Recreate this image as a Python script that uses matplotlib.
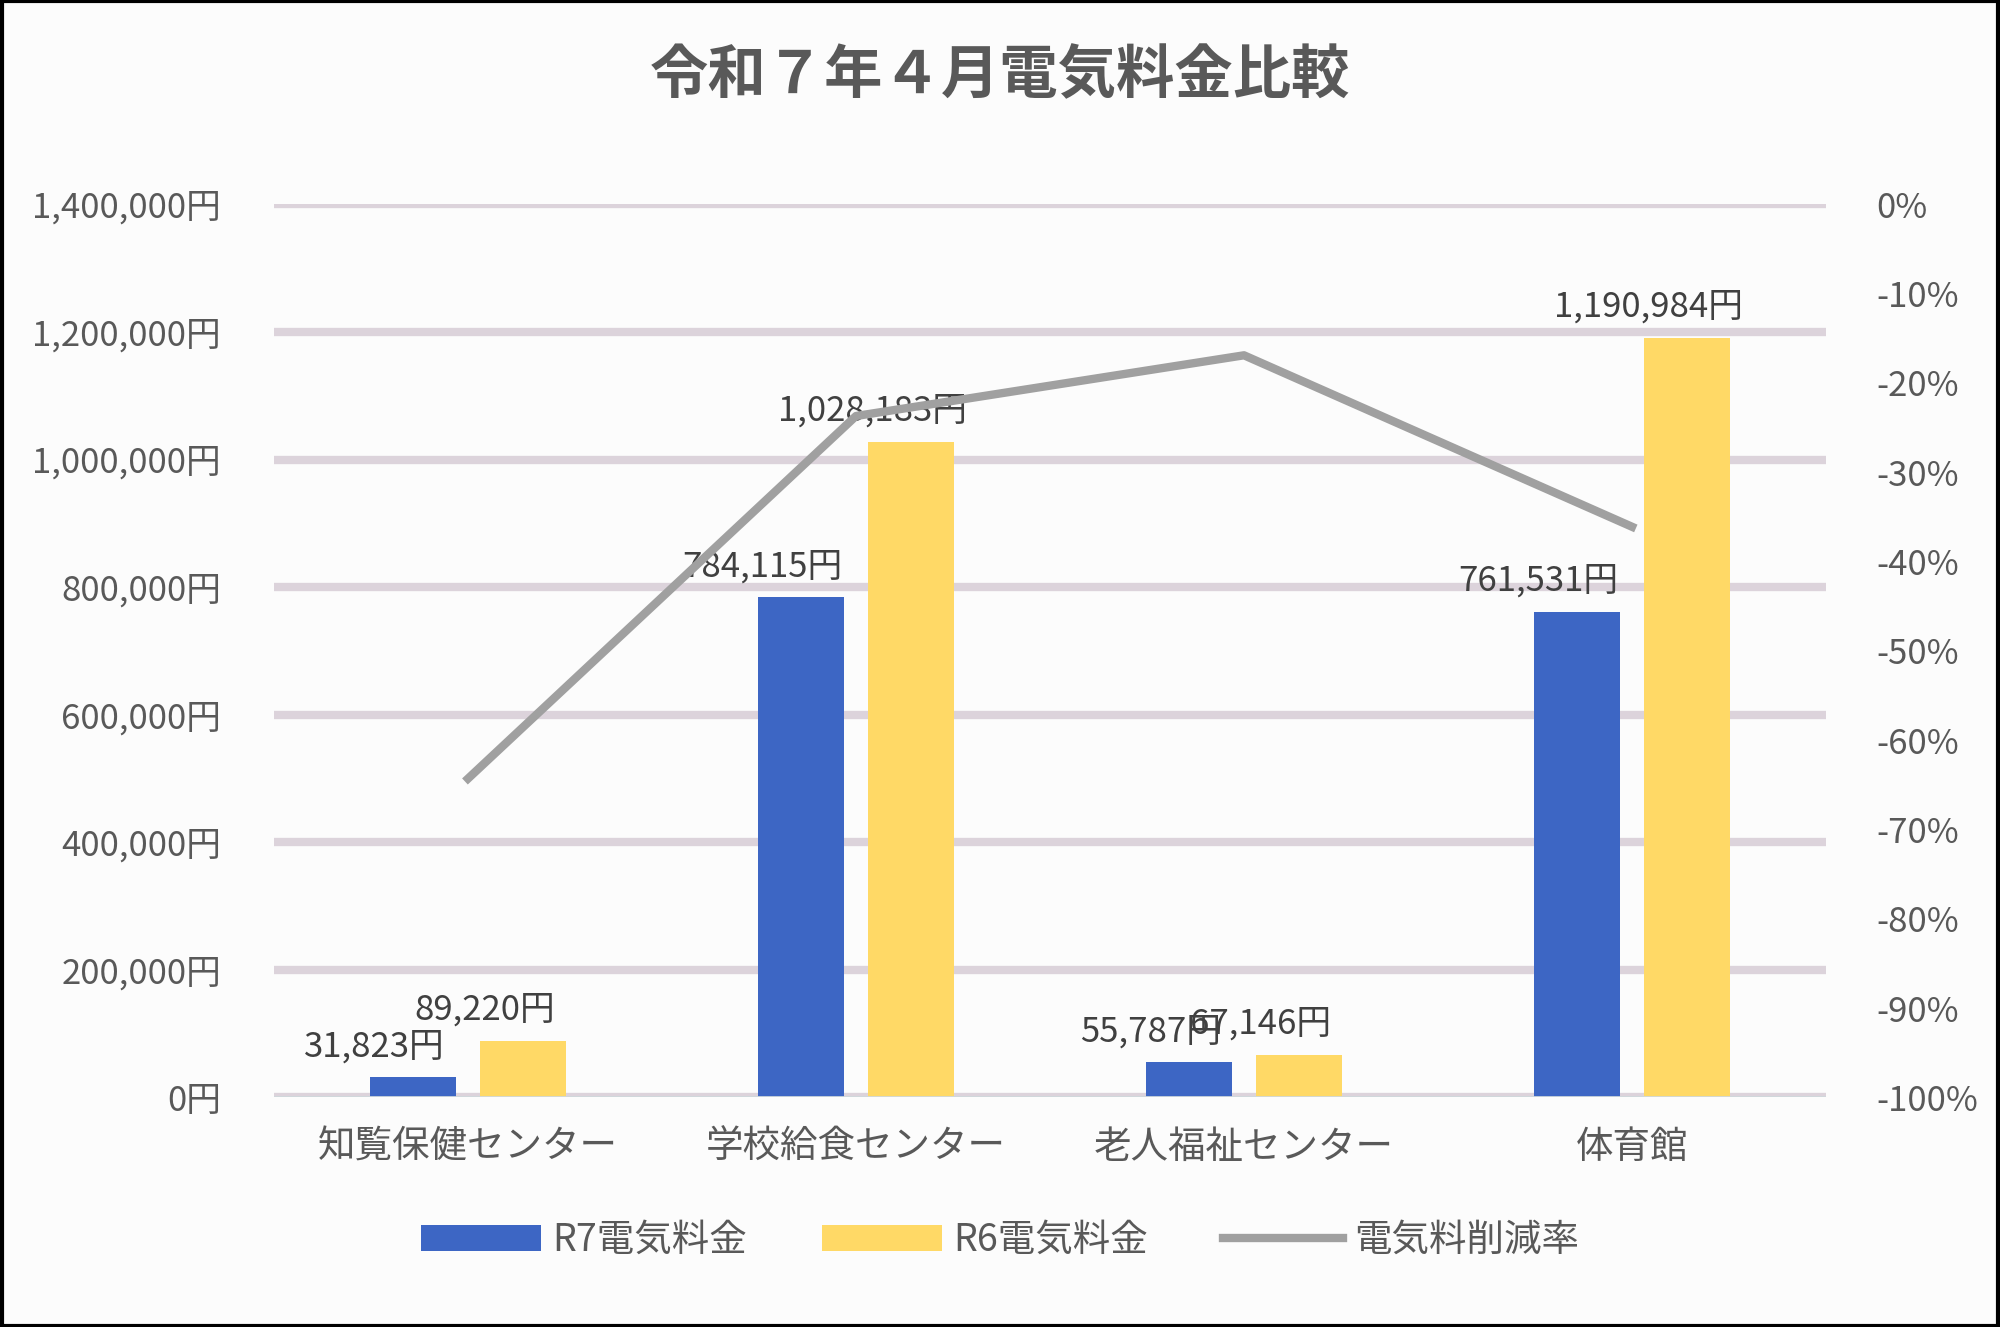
import matplotlib.pyplot as plt
import numpy as np
from matplotlib.ticker import FuncFormatter

plt.rcParams['font.family'] = 'Noto Sans CJK JP'

categories = ['知覧保健センター', '学校給食センター', '老人福祉センター', '体育館']
r7_cost = [31823, 784115, 55787, 761531]
r6_cost = [89220, 1028183, 67146, 1190984]
reduction_pct = [-64.3, -23.7, -16.9, -36.1]

fig = plt.figure(figsize=(20, 13.27), dpi=100)
fig.patch.set_facecolor('#fcfcfc')
fig.patches.append(plt.Rectangle((0.001, 0.001), 0.998, 0.998, transform=fig.transFigure,
                                 fill=False, edgecolor='black', linewidth=3))
ax = fig.add_axes([0.137, 0.173, 0.776, 0.673])
ax.set_facecolor('#fcfcfc')

x = np.arange(len(categories))
w = 0.22
off = 0.142
b1 = ax.bar(x - off, r7_cost, w, color='#3d66c4', label='R7電気料金', zorder=3)
b2 = ax.bar(x + off, r6_cost, w, color='#ffd966', label='R6電気料金', zorder=3)
for bars, vals in ((b1, r7_cost), (b2, r6_cost)):
    for b, v in zip(bars, vals):
        ax.text(b.get_x() + b.get_width() / 2 - 0.1, v + 20000, f'{v:,}円',
                ha='center', va='bottom', fontsize=25, color='#404040', zorder=5)

ax.set_ylim(0, 1400000)
ax.set_xlim(-0.5, 3.5)
ax.set_yticks(np.arange(0, 1400001, 200000))
ax.yaxis.set_major_formatter(FuncFormatter(lambda v, p: f'{int(v):,}円'))
ax.grid(axis='y', color='#dcd3db', linewidth=6, zorder=0)
ax.set_xticks(x)
ax.set_xticklabels(categories)
for s in ax.spines.values():
    s.set_visible(False)
ax.axhline(0, color='#cfd8dc', linewidth=2, zorder=4)
ax.tick_params(axis='y', length=0, labelsize=25, labelcolor='#595959', pad=38)
ax.tick_params(axis='x', length=0, labelsize=27, labelcolor='#595959', pad=22)

ax2 = ax.twinx()
ln, = ax2.plot(x, reduction_pct, color='#a0a0a0', linewidth=6, label='電気料削減率', zorder=4)
ax2.set_ylim(-100, 0)
ax2.set_yticks(np.arange(-100, 1, 10))
ax2.yaxis.set_major_formatter(FuncFormatter(lambda v, p: f'{int(round(v))}%'))
for s in ax2.spines.values():
    s.set_visible(False)
ax2.tick_params(length=0, labelsize=25, labelcolor='#595959', pad=36)

fig.suptitle('令和７年４月電気料金比較', y=0.965, fontsize=42, fontweight='bold', color='#595959')
fig.legend(handles=[b1, b2, ln], loc='lower center', bbox_to_anchor=(0.5, 0.025), ncol=3,
           frameon=False, fontsize=27, labelcolor='#595959', handlelength=3.2,
           handletextpad=0.3, columnspacing=2)

fig.savefig('out.png', dpi=100, facecolor=fig.get_facecolor())
